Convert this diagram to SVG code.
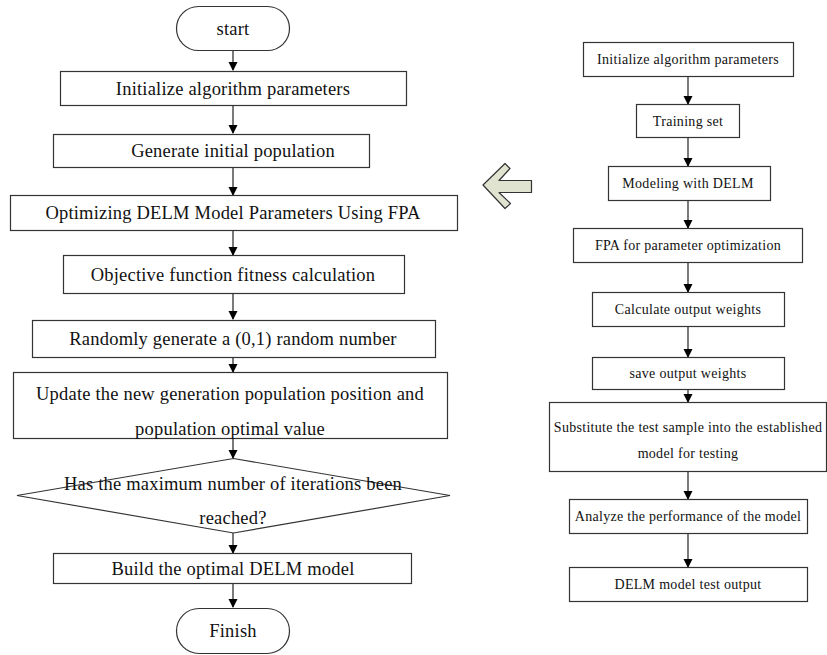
<svg xmlns="http://www.w3.org/2000/svg" width="827" height="655" viewBox="0 0 827 655">
<defs>
<marker id="ah" markerWidth="10" markerHeight="10" refX="8" refY="4.5" orient="auto" markerUnits="userSpaceOnUse">
<path d="M0,0 L9,4.5 L0,9 Z" fill="#000"/>
</marker>
<style>
.b{fill:#fff;stroke:#333;stroke-width:1.2}
.c{stroke:#222;stroke-width:1.2;fill:none;marker-end:url(#ah)}
.t{font-family:"Liberation Serif","Times New Roman",serif;font-size:18.5px;letter-spacing:0.2px;fill:#111;text-anchor:middle}
.s{font-family:"Liberation Serif","Times New Roman",serif;font-size:14px;letter-spacing:0.3px;fill:#111;text-anchor:middle}
</style>
</defs>
<rect width="827" height="655" fill="#fff"/>
<g id="connectors">
<line class="c" x1="233" y1="51" x2="233" y2="70"/>
<line class="c" x1="233" y1="106" x2="233" y2="133"/>
<line class="c" x1="233" y1="167" x2="233" y2="195"/>
<line class="c" x1="233" y1="230" x2="233" y2="255"/>
<line class="c" x1="233" y1="293" x2="233" y2="319"/>
<line class="c" x1="233" y1="357" x2="233" y2="372"/>
<line class="c" x1="233" y1="438" x2="233" y2="458"/>
<line class="c" x1="233" y1="533" x2="233" y2="553"/>
<line class="c" x1="233" y1="583" x2="233" y2="607"/>
<line class="c" x1="688" y1="76" x2="688" y2="104"/>
<line class="c" x1="688" y1="137" x2="688" y2="166"/>
<line class="c" x1="688" y1="200" x2="688" y2="228"/>
<line class="c" x1="688" y1="262" x2="688" y2="292"/>
<line class="c" x1="688" y1="326" x2="688" y2="357"/>
<line class="c" x1="688" y1="389" x2="688" y2="402"/>
<line class="c" x1="688" y1="471" x2="688" y2="499"/>
<line class="c" x1="688" y1="533" x2="688" y2="567"/>
</g>
<g id="big-arrow">
<path d="M483,185 L505,163.5 L510,168.5 L499,180.5 L531.5,180.5 L531.5,192.5 L499,192.5 L510.5,203.5 L505,208.5 Z" fill="#dfe3d0" stroke="#333" stroke-width="1.2" stroke-linejoin="round"/>
</g>
<g id="start"><rect class="b" x="176.5" y="6.5" width="113" height="44" rx="22" ry="22"/><text class="t" x="233" y="35">start</text></g>
<g id="init"><rect class="b" x="60.5" y="71.5" width="346" height="34"/><text class="t" x="233" y="95">Initialize algorithm parameters</text></g>
<g id="generate"><rect class="b" x="53.5" y="134.5" width="316" height="33"/><text class="t" x="233" y="157">Generate initial population</text></g>
<g id="optimize"><rect class="b" x="10.5" y="195.5" width="447" height="35"/><text class="t" x="233" y="219">Optimizing DELM Model Parameters Using FPA</text></g>
<g id="objective"><rect class="b" x="63.5" y="255.5" width="341" height="38"/><text class="t" x="233" y="280.5">Objective function fitness calculation</text></g>
<g id="random"><rect class="b" x="32.5" y="320.5" width="403" height="37"/><text class="t" x="233" y="345">Randomly generate a (0,1) random number</text></g>
<g id="update"><rect class="b" x="13.5" y="372.5" width="434" height="66"/><text class="t" x="230" y="399.5">Update the new generation population position and</text><text class="t" x="230" y="434.5">population optimal value</text></g>
<g id="decision"><polygon class="b" points="233.5,458.5 450,495.5 233.5,533 17,495.5"/><text class="t" x="233" y="489.5">Has the maximum number of iterations been</text><text class="t" x="233" y="523.5">reached?</text></g>
<g id="build"><rect class="b" x="53.5" y="553.5" width="358" height="30"/><text class="t" x="233" y="574.5">Build the optimal DELM model</text></g>
<g id="finish"><rect class="b" x="176.5" y="608.5" width="113" height="45" rx="22.5" ry="22.5"/><text class="t" x="233" y="637">Finish</text></g>
<g id="r-init"><rect class="b" x="583.5" y="42.5" width="210" height="34"/><text class="s" x="688" y="64">Initialize algorithm parameters</text></g>
<g id="r-train"><rect class="b" x="636.5" y="104.5" width="103" height="33"/><text class="s" x="688" y="125.5">Training set</text></g>
<g id="r-model"><rect class="b" x="608.5" y="166.5" width="162" height="34"/><text class="s" x="688" y="188">Modeling with DELM</text></g>
<g id="r-fpa"><rect class="b" x="573.5" y="228.5" width="229" height="34"/><text class="s" x="688" y="250">FPA for parameter optimization</text></g>
<g id="r-calc"><rect class="b" x="592.5" y="292.5" width="192" height="34"/><text class="s" x="688" y="314">Calculate output weights</text></g>
<g id="r-save"><rect class="b" x="592.5" y="357.5" width="192" height="32"/><text class="s" x="688" y="378">save output weights</text></g>
<g id="r-subst"><rect class="b" x="549.5" y="402.5" width="277" height="69"/><text class="s" x="688" y="432">Substitute the test sample into the established</text><text class="s" x="688" y="458">model for testing</text></g>
<g id="r-analyze"><rect class="b" x="569.5" y="499.5" width="238" height="34"/><text class="s" x="688" y="521">Analyze the performance of the model</text></g>
<g id="r-output"><rect class="b" x="569.5" y="567.5" width="238" height="34"/><text class="s" x="688" y="589">DELM model test output</text></g>
</svg>
